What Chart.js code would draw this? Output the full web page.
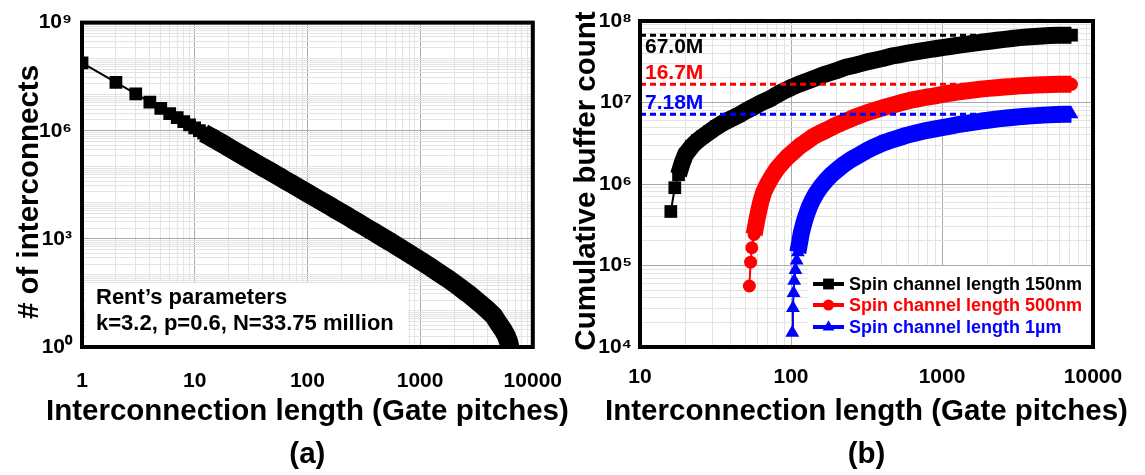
<!DOCTYPE html>
<html>
<head>
<meta charset="utf-8">
<script src="https://cdn.jsdelivr.net/npm/chart.js@4.4.1/dist/chart.umd.min.js"></script>
<style>
  html, body { margin: 0; padding: 0; background: #fff; }
  #wrap { position: relative; width: 1145px; height: 475px; }
  .box { position: absolute; top: 0; height: 475px; }
  #boxA { left: 0; width: 584px; }
  #boxB { left: 572px; width: 573px; }
</style>
</head>
<body>
<div id="wrap">
  <div class="box" id="boxA"><canvas id="chartA"></canvas></div>
  <div class="box" id="boxB"><canvas id="chartB"></canvas></div>
</div>
<script>
const FONT = "'Liberation Sans', Arial, Helvetica, sans-serif";

// (a) number of interconnects vs length
const lenA = [1,2,3,4,5,6,7,8,9,10,11,12,13,14,15,16,18,20,22,25,28,32,36,40,45,50,56,63,71,80,90,
  100,112,125,140,160,180,200,225,250,280,320,360,400,450,500,560,630,710,800,900,
  1000,1120,1250,1400,1600,1800,2000,2250,2500,2800,3200,3600,4000,4500,5000,5400,5800,6100,6300];
const countA = [7.6e7,2.2e7,1.05e7,6.2e6,4.2e6,3.0e6,2.3e6,1.8e6,1.45e6,1.2e6,1.0e6,8.6e5,7.5e5,6.6e5,5.8e5,5.2e5,
  4.2e5,3.45e5,2.9e5,2.3e5,1.88e5,1.48e5,1.19e5,9.8e4,8.0e4,6.6e4,5.4e4,4.3e4,3.5e4,2.8e4,2.27e4,
  1.87e4,1.53e4,1.25e4,1.02e4,8.0e3,6.4e3,5.3e3,4.3e3,3.5e3,2.84e3,2.22e3,1.78e3,1.47e3,1.17e3,960,
  780,620,490,390,310,250,200,160,127,96,75,59,45,35,27,19,14,10.4,7.3,4.4,3.1,2.1,1.4,0.9];

// (b) cumulative buffer count
const len150 = [16,17,18,19,20,22,24,26,29,32,36,40,45,51,57,64,72,81,91,102,115,130,145,165,185,205,230,260,290,330,
  370,410,460,520,580,650,730,820,920,1030,1160,1300,1460,1640,1840,2060,2310,2590,2900,3260,3650,4100,4600,5150,5800,6500,7200];
const buf150 = [4.6e5,9.0e5,1.3e6,1.8e6,2.3e6,2.9e6,3.4e6,3.8e6,4.4e6,5.0e6,5.7e6,6.3e6,7.0e6,8.0e6,8.9e6,1.0e7,1.1e7,1.25e7,1.4e7,1.55e7,
  1.7e7,1.85e7,2.0e7,2.2e7,2.35e7,2.5e7,2.7e7,2.85e7,3.0e7,3.2e7,3.35e7,3.5e7,3.7e7,3.85e7,4.0e7,4.15e7,4.3e7,4.45e7,4.6e7,4.75e7,
  4.9e7,5.05e7,5.2e7,5.35e7,5.5e7,5.65e7,5.8e7,5.95e7,6.1e7,6.25e7,6.35e7,6.45e7,6.55e7,6.62e7,6.67e7,6.7e7,6.7e7];
const len500 = [53,54,55,57,59,61,63,66,70,75,81,88,95,104,114,126,140,155,172,192,215,240,270,300,340,380,430,480,540,610,
  690,780,880,990,1120,1260,1420,1600,1800,2030,2290,2580,2900,3270,3680,4140,4660,5250,5900,6600,7200];
const buf500 = [5.6e4,1.1e5,1.65e5,2.4e5,3.4e5,4.6e5,6.0e5,8.0e5,1.0e6,1.25e6,1.55e6,1.85e6,2.15e6,2.5e6,2.9e6,3.3e6,3.8e6,4.2e6,4.6e6,5.1e6,
  5.6e6,6.1e6,6.7e6,7.2e6,7.8e6,8.3e6,8.9e6,9.4e6,1.0e7,1.06e7,1.11e7,1.16e7,1.2e7,1.25e7,1.3e7,1.34e7,1.38e7,1.42e7,1.46e7,1.49e7,
  1.52e7,1.55e7,1.57e7,1.6e7,1.62e7,1.64e7,1.65e7,1.66e7,1.67e7,1.67e7,1.67e7];
const len1um = [102,103,104,105,107,109,111,114,117,121,126,132,139,147,157,170,185,203,225,250,280,315,355,400,450,510,580,660,750,850,
  960,1090,1240,1410,1600,1820,2070,2350,2670,3030,3440,3900,4430,5030,5700,6450,7200];
const buf1um = [1.5e4,3.0e4,4.6e4,6.5e4,8.8e4,1.15e5,1.45e5,1.9e5,2.5e5,3.2e5,4.1e5,5.2e5,6.4e5,7.7e5,9.2e5,1.1e6,1.3e6,1.5e6,1.75e6,2.0e6,
  2.25e6,2.55e6,2.85e6,3.15e6,3.4e6,3.65e6,3.95e6,4.2e6,4.45e6,4.65e6,4.85e6,5.05e6,5.3e6,5.5e6,5.7e6,5.9e6,6.1e6,6.3e6,6.45e6,6.6e6,
  6.75e6,6.85e6,6.95e6,7.05e6,7.12e6,7.18e6,7.18e6];

const seriesNames = ['Spin channel length 150nm', 'Spin channel length 500nm', 'Spin channel length 1\u00b5m'];
const seriesColors = ['#000000', '#ff0000', '#0000ff'];
const totals = [67.0e6, 16.7e6, 7.18e6];
const totalLabels = ['67.0M', '16.7M', '7.18M'];
const totalLineX = [10, 2100];

const xTicksA = [1, 10, 100, 1000, 10000];
const yTicksA = [1, 1e3, 1e6, 1e9];
const xTicksB = [10, 100, 1000, 10000];
const yTicksB = [1e4, 1e5, 1e6, 1e7, 1e8];

const xTitle = 'Interconnection length (Gate pitches)';
const yTitleA = '# of interconnects';
const yTitleB = 'Cumulative buffer count';
const rentText = ['Rent\u2019s parameters', 'k=3.2, p=0.6, N=33.75 million'];

// helpers
const pts = (xs, ys) => xs.map((x, i) => ({x: x, y: ys[i]}));
const SUP = '\u2070\u00b9\u00b2\u00b3\u2074\u2075\u2076\u2077\u2078\u2079';
const powLabel = v => '10' + String(Math.round(Math.log10(v))).split('').map(d => SUP[+d]).join('');
const isIn = (v, list) => list.some(t => Math.abs(Math.log10(t) - Math.log10(v)) < 1e-6);

function logGrid(min, max) {
  const out = [];
  for (let e = Math.round(Math.log10(min)); e < Math.round(Math.log10(max)); e++) {
    for (let m = 1; m < 10; m++) out.push({value: m * Math.pow(10, e)});
  }
  out.push({value: max});
  return out;
}

function gridColor(major) {
  return c => {
    if (!c.tick) return 'rgba(0,0,0,0)';
    return isIn(c.tick.value, major) ? '#a9a9a9' : '#e3e3e3';
  };
}

function logAxis(min, max, labelled, fmt, size, pad) {
  return {
    type: 'logarithmic', min: min, max: max,
    afterBuildTicks: s => { s.ticks = logGrid(min, max); },
    afterFit: s => { if (s.isHorizontal()) s.height = size; else s.width = size; },
    grid: { drawTicks: false, color: gridColor(labelled), lineWidth: 1 },
    border: { display: false },
    ticks: {
      autoSkip: false, maxRotation: 0, padding: pad, color: '#000',
      font: { family: FONT, size: 21, weight: 'bold' },
      callback: v => isIn(v, labelled) ? fmt(v) : ''
    }
  };
}

// frame, axis titles and the (a)/(b) caption
function frameAndTitles(caption, yTitle, yTitleX, yTitleY) {
  return {
    id: 'frame',
    afterDraw(chart) {
      const {ctx, chartArea: a} = chart;
      const cx = (a.left + a.right) / 2;
      ctx.save();
      ctx.strokeStyle = '#000';
      ctx.lineWidth = 4;
      ctx.strokeRect(a.left, a.top, a.right - a.left, a.bottom - a.top);
      ctx.fillStyle = '#000';
      ctx.font = 'bold 29.5px ' + FONT;
      ctx.textAlign = 'center';
      ctx.textBaseline = 'middle';
      ctx.fillText(xTitle, cx, 412);
      ctx.fillText(caption, cx, 455);
      ctx.translate(yTitleX, yTitleY);
      ctx.rotate(-Math.PI / 2);
      ctx.fillText(yTitle, 0, 0);
      ctx.restore();
    }
  };
}

const rentBox = {
  id: 'rentBox',
  beforeDatasetsDraw(chart) {
    const ctx = chart.ctx;
    ctx.save();
    ctx.fillStyle = '#fff';
    ctx.fillRect(86, 283, 322, 62);
    ctx.fillStyle = '#000';
    ctx.font = 'bold 22px ' + FONT;
    ctx.textBaseline = 'middle';
    ctx.fillText(rentText[0], 96, 298);
    ctx.fillText(rentText[1], 96, 324);
    ctx.restore();
  }
};

function drawMarker(ctx, style, x, y, r) {
  ctx.beginPath();
  if (style === 'rect') {
    const s = r * Math.SQRT1_2;
    ctx.rect(x - s, y - s, 2 * s, 2 * s);
  } else if (style === 'circle') {
    ctx.arc(x, y, r, 0, Math.PI * 2);
  } else {
    ctx.moveTo(x, y - r);
    ctx.lineTo(x + Math.sin(2 * Math.PI / 3) * r, y - Math.cos(2 * Math.PI / 3) * r);
    ctx.lineTo(x + Math.sin(4 * Math.PI / 3) * r, y - Math.cos(4 * Math.PI / 3) * r);
    ctx.closePath();
  }
  ctx.fill();
}

const bufferNotes = {
  id: 'bufferNotes',
  afterDraw(chart) {
    const ctx = chart.ctx;
    const rows = [284, 305, 327];
    ctx.save();
    ctx.fillStyle = '#fff';
    ctx.fillRect(236, 266, 283, 79);
    ctx.font = 'bold 18px ' + FONT;
    ctx.textBaseline = 'middle';
    chart.data.datasets.filter(d => d.label).forEach((d, i) => {
      const y = rows[i];
      ctx.strokeStyle = d.borderColor;
      ctx.fillStyle = d.borderColor;
      ctx.lineWidth = 4;
      ctx.beginPath();
      ctx.moveTo(241, y);
      ctx.lineTo(272, y);
      ctx.stroke();
      drawMarker(ctx, d.pointStyle, 256.5, y, d.pointRadius * 0.85);
      ctx.fillText(d.label, 277, y + 1);
    });
    ctx.font = 'bold 21px ' + FONT;
    const ys = [47, 73, 103];
    totalLabels.forEach((t, i) => {
      ctx.fillStyle = seriesColors[i];
      ctx.fillText(t, 73, ys[i]);
    });
    ctx.restore();
  }
};

const common = {
  animation: false,
  responsive: true,
  maintainAspectRatio: false,
  events: [],
  plugins: { legend: { display: false }, tooltip: { enabled: false } }
};

new Chart(document.getElementById('chartA'), {
  type: 'line',
  data: {
    datasets: [{
      data: pts(lenA, countA),
      borderColor: '#000', backgroundColor: '#000', borderWidth: 2,
      borderJoinStyle: 'round',
      segment: { borderWidth: c => lenA[c.p0DataIndex] >= 12 ? 19 : 2 },
      pointStyle: 'rect', pointRadius: 9, pointBorderWidth: 0, tension: 0
    }]
  },
  options: Object.assign({}, common, {
    layout: { padding: { left: 0, right: 51, top: 21, bottom: 0 } },
    scales: {
      x: logAxis(1, 10000, xTicksA, v => String(v), 128, 22),
      y: logAxis(1, 1e9, yTicksA, powLabel, 82, 10)
    }
  }),
  plugins: [rentBox, frameAndTitles('(a)', yTitleA, 30, 192)]
});

const markerStyles = ['rect', 'circle', 'triangle'];
const markerSizes = [9, 6.5, 8];
const thickFrom = [18, 57, 111];
const seriesLens = [len150, len500, len1um];
const seriesData = [pts(len150, buf150), pts(len500, buf500), pts(len1um, buf1um)];

const bufferSets = seriesData.map((d, i) => ({
  label: seriesNames[i], data: d, order: 2,
  borderColor: seriesColors[i], backgroundColor: seriesColors[i], borderWidth: 2,
  borderJoinStyle: 'round',
  segment: { borderWidth: c => seriesLens[i][c.p0DataIndex] >= thickFrom[i] ? 17 : 2 },
  pointStyle: markerStyles[i], pointRadius: markerSizes[i], pointBorderWidth: 0, tension: 0
}));
const totalSets = totals.map((v, i) => ({
  data: pts(totalLineX, [v, v]), order: 1,
  borderColor: seriesColors[i], borderWidth: 3, borderDash: [6, 4],
  pointRadius: 0, tension: 0
}));

new Chart(document.getElementById('chartB'), {
  type: 'line',
  data: { datasets: bufferSets.concat(totalSets) },
  options: Object.assign({}, common, {
    layout: { padding: { left: 0, right: 52, top: 21, bottom: 0 } },
    scales: {
      x: logAxis(10, 10000, xTicksB, v => String(v), 128, 18),
      y: logAxis(1e4, 1e8, yTicksB, powLabel, 68, 8)
    }
  }),
  plugins: [frameAndTitles('(b)', yTitleB, 15, 181), bufferNotes]
});
</script>
</body>
</html>
